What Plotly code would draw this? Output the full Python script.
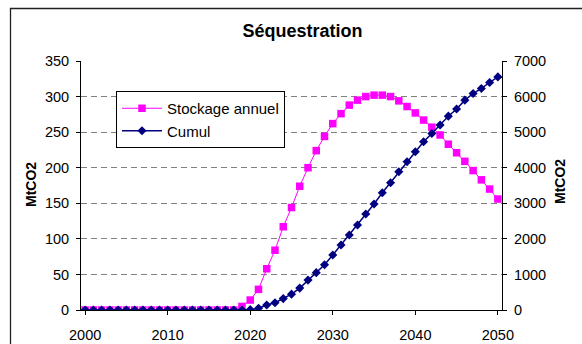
import plotly.graph_objects as go

years = list(range(2000, 2051))
stockage_annuel = [0] * 19 + [
    5, 14, 29, 58, 84, 117, 144, 174, 200, 224, 244,
    262, 276, 288, 295, 300, 302, 302, 300, 294, 286,
    277, 267, 257, 246, 233, 221, 209, 196, 183, 170, 156,
]
cumul = [0] * 20 + [
    10, 50, 140, 205, 320, 445, 615, 840, 1050, 1270,
    1545, 1826, 2107, 2390, 2697, 2980, 3296, 3577, 3885, 4166,
    4447, 4728, 4963, 5200, 5449, 5650, 5899, 6086, 6228, 6396, 6553,
]
x_ticks = [2000, 2010, 2020, 2030, 2040, 2050]
y_left_ticks = [0, 50, 100, 150, 200, 250, 300, 350]
y_right_ticks = [0, 1000, 2000, 3000, 4000, 5000, 6000, 7000]

W, H = 582, 344
ML, MR, MT, MB = 81, 80, 61, 34
PW, PH = W - ML - MR, H - MT - MB

def px(xp):
    return (xp - ML) / PW

def py(yp):
    return (H - MB - yp) / PH

FONT = "Liberation Sans, Arial, sans-serif"

fig = go.Figure()
fig.add_trace(go.Scatter(
    x=years, y=stockage_annuel, name="Stockage annuel", mode="lines+markers",
    line=dict(color="#FF00FF", width=1),
    marker=dict(symbol="square", size=7.5, color="#FF00FF"),
    yaxis="y",
))
fig.add_trace(go.Scatter(
    x=years, y=cumul, name="Cumul", mode="lines+markers",
    line=dict(color="#000080", width=1.5),
    marker=dict(symbol="diamond", size=7, color="#000080"),
    yaxis="y2",
))

axis_font = dict(family=FONT, size=14.5, color="black")
fig.update_layout(
    width=W, height=H, autosize=False,
    margin=dict(l=ML, r=MR, t=MT, b=MB, pad=0, autoexpand=False),
    paper_bgcolor="white", plot_bgcolor="white",
    font=dict(family=FONT, color="black"),
    title=dict(text="<b>Séquestration</b>", x=px(302.5), xref="paper", xanchor="center",
               y=1 - 30.7 / H, yanchor="middle", font=dict(family=FONT, size=18, color="black")),
    xaxis=dict(range=[1999.5, 2050.5], tickvals=x_ticks, ticks="outside", ticklen=4,
               tickcolor="black", showline=True, linecolor="black", linewidth=1,
               showgrid=False, zeroline=False, tickfont=axis_font, automargin=False,
               ticklabelstandoff=8),
    yaxis=dict(range=[0, 350], tickvals=y_left_ticks, ticks="outside", ticklen=4,
               tickcolor="black", showline=True, linecolor="black", linewidth=1,
               showgrid=True, gridcolor="#808080", gridwidth=1, griddash="6px,4px",
               zeroline=False, tickfont=axis_font, ticklabelstandoff=4, automargin=False),
    yaxis2=dict(range=[0, 7000], tickvals=y_right_ticks, overlaying="y", side="right",
                ticks="outside", ticklen=4, tickcolor="black", showline=True,
                linecolor="black", linewidth=1, showgrid=False, zeroline=False,
                tickfont=axis_font, ticklabelstandoff=4, automargin=False),
    legend=dict(x=px(116), y=py(91), xanchor="left", yanchor="top",
                bgcolor="white", bordercolor="black", borderwidth=1,
                font=dict(family=FONT, size=15, color="black"), itemwidth=40),
    showlegend=True,
)

fig.add_annotation(text="<b>MtCO2</b>", x=px(21), y=py(185), xref="paper", yref="paper",
                   textangle=-90, showarrow=False, font=dict(family=FONT, size=14, color="black"))
fig.add_annotation(text="<b>MtCO2</b>", x=px(570), y=py(182), xref="paper", yref="paper",
                   textangle=-90, showarrow=False, font=dict(family=FONT, size=14, color="black"))

# outer chart-area border
fig.add_shape(type="line", xref="paper", yref="paper", x0=px(10), x1=px(600),
              y0=py(8.5), y1=py(8.5), line=dict(color="#202020", width=1.3))
fig.add_shape(type="line", xref="paper", yref="paper", x0=px(10.5), x1=px(10.5),
              y0=py(8), y1=py(360), line=dict(color="#202020", width=1.3))

fig.write_html(
    "out.html",
    config=dict(displayModeBar=False, staticPlot=True),
    post_script="document.body.style.margin='0px';document.body.style.overflow='hidden';",
)
